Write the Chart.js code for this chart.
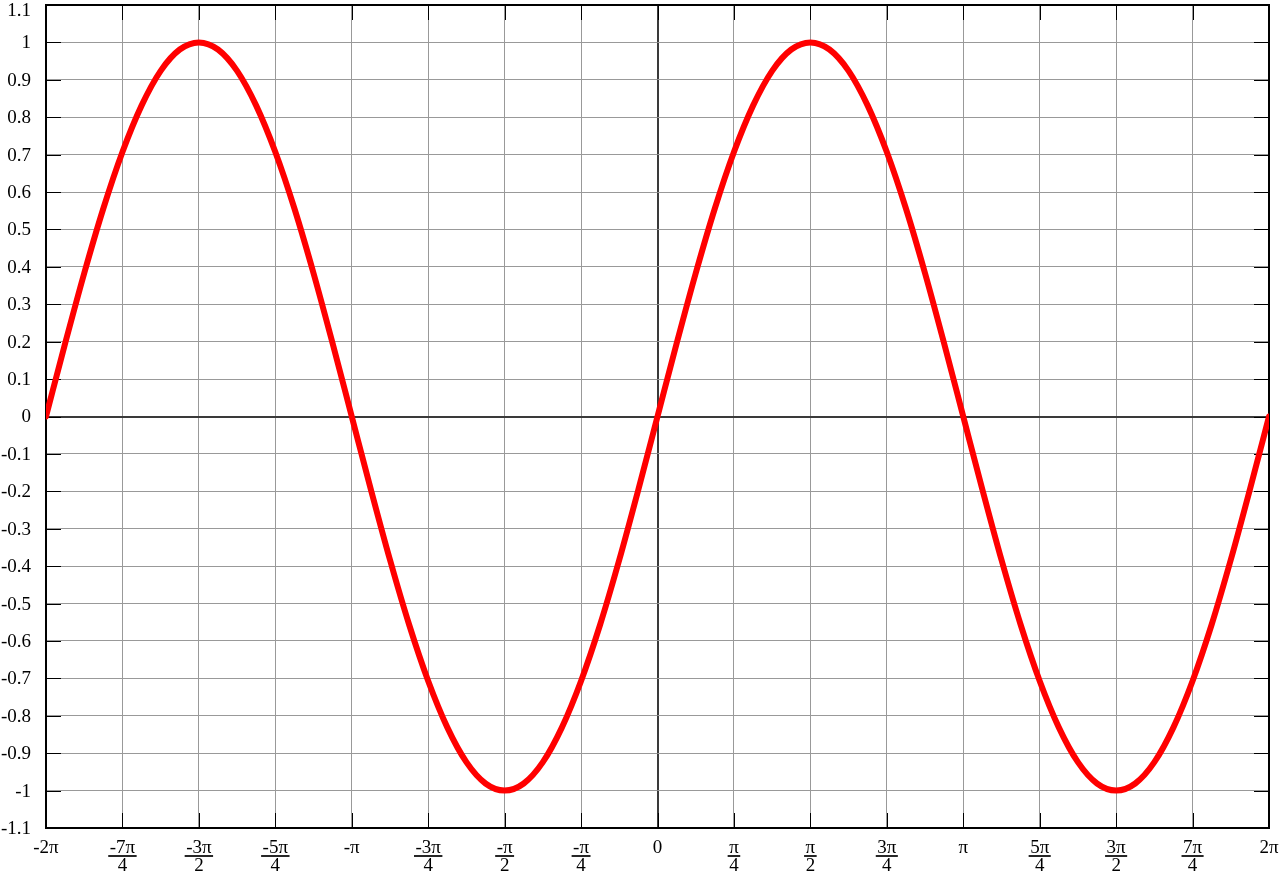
<!DOCTYPE html>
<html>
<head>
<meta charset="utf-8">
<script src="https://cdn.jsdelivr.net/npm/chart.js@4"></script>
<style>
  html, body { margin: 0; padding: 0; background: #fff; }
  #wrap { width: 1280px; height: 873px; }
</style>
</head>
<body>
<div id="wrap"><canvas id="grafico" width="1280" height="873"></canvas></div>
<script>
// x in multiples of pi, sampled every pi/16
const xValues = [
  -2, -1.9375, -1.875, -1.8125, -1.75, -1.6875, -1.625, -1.5625,
  -1.5, -1.4375, -1.375, -1.3125, -1.25, -1.1875, -1.125, -1.0625,
  -1, -0.9375, -0.875, -0.8125, -0.75, -0.6875, -0.625, -0.5625,
  -0.5, -0.4375, -0.375, -0.3125, -0.25, -0.1875, -0.125, -0.0625,
  0, 0.0625, 0.125, 0.1875, 0.25, 0.3125, 0.375, 0.4375,
  0.5, 0.5625, 0.625, 0.6875, 0.75, 0.8125, 0.875, 0.9375,
  1, 1.0625, 1.125, 1.1875, 1.25, 1.3125, 1.375, 1.4375,
  1.5, 1.5625, 1.625, 1.6875, 1.75, 1.8125, 1.875, 1.9375, 2];
const sineValues = [
  0, 0.195, 0.383, 0.556, 0.707, 0.831, 0.924, 0.981,
  1, 0.981, 0.924, 0.831, 0.707, 0.556, 0.383, 0.195,
  0, -0.195, -0.383, -0.556, -0.707, -0.831, -0.924, -0.981,
  -1, -0.981, -0.924, -0.831, -0.707, -0.556, -0.383, -0.195,
  0, 0.195, 0.383, 0.556, 0.707, 0.831, 0.924, 0.981,
  1, 0.981, 0.924, 0.831, 0.707, 0.556, 0.383, 0.195,
  0, -0.195, -0.383, -0.556, -0.707, -0.831, -0.924, -0.981,
  -1, -0.981, -0.924, -0.831, -0.707, -0.556, -0.383, -0.195, 0];

const xTickValues = [-2, -1.75, -1.5, -1.25, -1, -0.75, -0.5, -0.25, 0,
  0.25, 0.5, 0.75, 1, 1.25, 1.5, 1.75, 2];
const xTickLabels = [["-2π"], ["-7π", "4"], ["-3π", "2"], ["-5π", "4"], ["-π"],
  ["-3π", "4"], ["-π", "2"], ["-π", "4"], ["0"], ["π", "4"], ["π", "2"],
  ["3π", "4"], ["π"], ["5π", "4"], ["3π", "2"], ["7π", "4"], ["2π"]];

const yTickValues = [-1.1, -1, -0.9, -0.8, -0.7, -0.6, -0.5, -0.4, -0.3, -0.2, -0.1,
  0, 0.1, 0.2, 0.3, 0.4, 0.5, 0.6, 0.7, 0.8, 0.9, 1, 1.1];
const yTickLabels = ["-1.1", "-1", "-0.9", "-0.8", "-0.7", "-0.6", "-0.5", "-0.4", "-0.3", "-0.2", "-0.1",
  "0", "0.1", "0.2", "0.3", "0.4", "0.5", "0.6", "0.7", "0.8", "0.9", "1", "1.1"];

const FONT = '19px "Liberation Serif", "Times New Roman", serif';
const GRID = "#999999";
const AXIS = "#3a3a3a";

// borde, marcas internas y etiquetas
const ejesPlugin = {
  id: "ejes",
  beforeDatasetsDraw(chart) {
    const { ctx, chartArea: a, scales } = chart;
    ctx.save();
    ctx.strokeStyle = "#000";
    ctx.lineWidth = 1;
    ctx.beginPath();
    xTickValues.forEach((v) => {
      const px = Math.round(scales.x.getPixelForValue(v)) + 0.5;
      ctx.moveTo(px, a.top); ctx.lineTo(px, a.top + 15);
      ctx.moveTo(px, a.bottom); ctx.lineTo(px, a.bottom - 15);
    });
    yTickValues.forEach((v) => {
      const py = Math.round(scales.y.getPixelForValue(v)) + 0.5;
      ctx.moveTo(a.left, py); ctx.lineTo(a.left + 15, py);
      ctx.moveTo(a.right, py); ctx.lineTo(a.right - 15, py);
    });
    ctx.stroke();
    ctx.lineWidth = 2;
    ctx.strokeRect(a.left, a.top, a.right - a.left, a.bottom - a.top);
    ctx.restore();
  },
  afterDraw(chart) {
    const { ctx, scales } = chart;
    ctx.save();
    ctx.font = FONT;
    ctx.fillStyle = "#000";
    ctx.strokeStyle = "#000";
    ctx.textBaseline = "alphabetic";

    ctx.textAlign = "center";
    xTickValues.forEach((v, i) => {
      const px = scales.x.getPixelForValue(v);
      const lab = xTickLabels[i];
      ctx.fillText(lab[0], px, 853);
      if (lab.length > 1) {
        ctx.fillText(lab[1], px, 871);
        const w = Math.max(ctx.measureText(lab[0]).width, ctx.measureText(lab[1]).width) + 3;
        ctx.lineWidth = 1.7;
        ctx.beginPath();
        ctx.moveTo(px - w / 2, 856);
        ctx.lineTo(px + w / 2, 856);
        ctx.stroke();
      }
    });

    ctx.textAlign = "right";
    ctx.textBaseline = "middle";
    yTickValues.forEach((v, i) => {
      const py = Math.max(scales.y.getPixelForValue(v) + 1, 11);
      ctx.fillText(yTickLabels[i], 31, py);
    });
    ctx.restore();
  },
};

const ctx = document.getElementById("grafico");
new Chart(ctx, {
  type: "line",
  data: {
    datasets: [{
      label: "sin(x)",
      data: xValues.map((x, i) => ({ x: x, y: sineValues[i] })),
      borderColor: "#ff0000",
      borderWidth: 6,
      borderCapStyle: "round",
      borderJoinStyle: "round",
      pointRadius: 0,
      cubicInterpolationMode: "monotone",
      fill: false,
    }],
  },
  options: {
    responsive: false,
    devicePixelRatio: 1,
    animation: false,
    layout: { padding: { top: 5, right: 11, left: 0, bottom: 0 } },
    plugins: { legend: { display: false }, tooltip: { enabled: false } },
    scales: {
      x: {
        type: "linear",
        min: -2,
        max: 2,
        afterBuildTicks: (s) => { s.ticks = xTickValues.map((v) => ({ value: v })); },
        afterFit: (s) => { s.height = 45; },
        ticks: { display: false },
        border: { display: false },
        grid: {
          drawTicks: false,
          color: (c) => (c.tick && c.tick.value === 0 ? AXIS : GRID),
          lineWidth: (c) => (c.tick && c.tick.value === 0 ? 2 : 1),
        },
      },
      y: {
        type: "linear",
        min: -1.1,
        max: 1.1,
        afterBuildTicks: (s) => { s.ticks = yTickValues.map((v) => ({ value: v })); },
        afterFit: (s) => { s.width = 46; },
        ticks: { display: false },
        border: { display: false },
        grid: {
          drawTicks: false,
          color: (c) => (c.tick && c.tick.value === 0 ? AXIS : GRID),
          lineWidth: (c) => (c.tick && c.tick.value === 0 ? 2 : 1),
        },
      },
    },
  },
  plugins: [ejesPlugin],
});
</script>
</body>
</html>
